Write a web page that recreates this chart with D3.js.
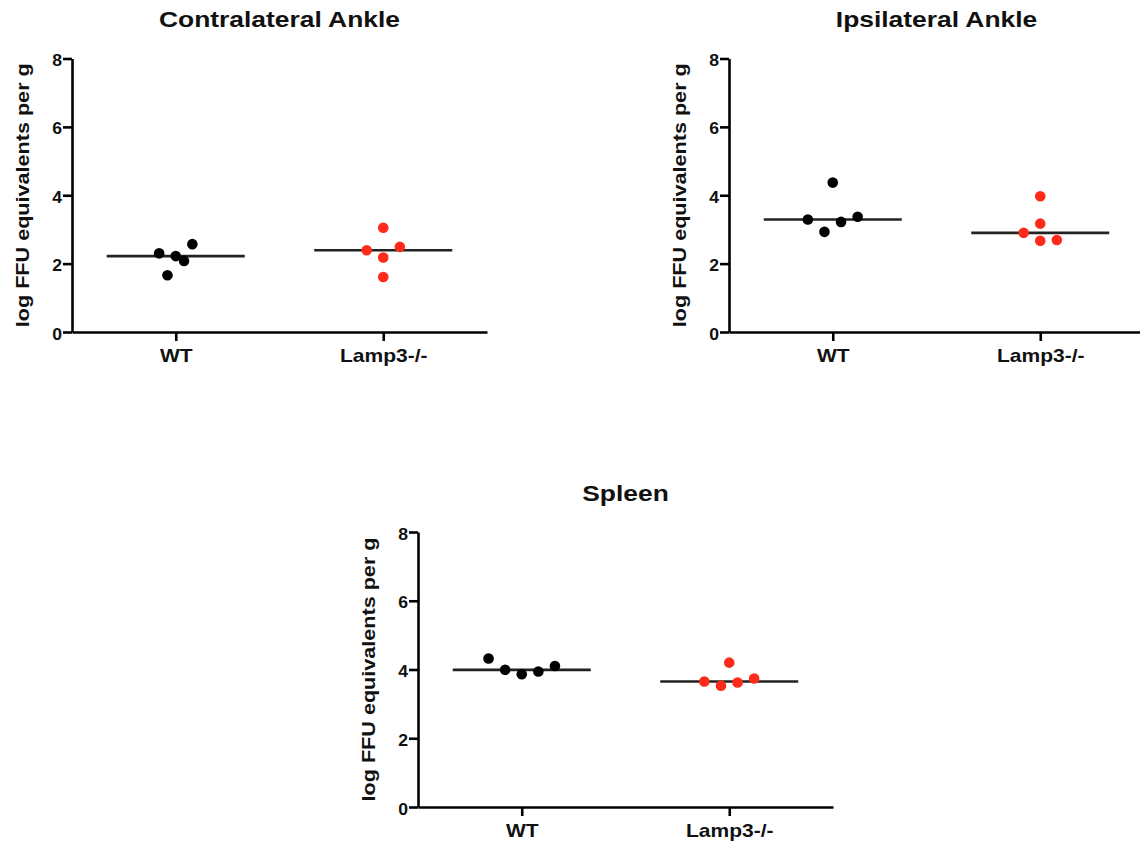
<!DOCTYPE html>
<html>
<head>
<meta charset="utf-8">
<script src="https://cdn.jsdelivr.net/npm/d3@7"></script>
<style>
  html, body { margin: 0; padding: 0; background: #fff; }
  svg { display: block; }
  text { font-family: "Liberation Sans", Arial, Helvetica, sans-serif; font-weight: bold; fill: #111; }
</style>
</head>
<body>
<svg id="chart" width="1140" height="846"></svg>
<script>
// ---------------- DATA ----------------
const categories = ["WT", "Lamp3-/-"];
const yTicks = [0, 2, 4, 6, 8];
const yLabel = "log FFU equivalents per g";
const panelTitles = ["Contralateral Ankle", "Ipsilateral Ankle", "Spleen"];

// values (log FFU equivalents per g)
const contraWT   = [2.30, 2.22, 2.08, 2.57, 1.66];
const contraLamp = [2.39, 3.05, 2.49, 2.18, 1.61];
const ipsiWT     = [3.29, 4.37, 2.93, 3.22, 3.37];
const ipsiLamp   = [2.90, 3.97, 3.17, 2.67, 2.69];
const spleenWT   = [4.32, 3.99, 3.86, 3.94, 4.10];
const spleenLamp = [3.65, 3.53, 3.62, 3.74, 4.20];

// scatter column index of each point (jitter slot, as in the figure)
const contraWTCol   = [-2, 0, 1, 2, -1];
const contraLampCol = [-2, 0, 2, 0, 0];
const ipsiWTCol     = [-3, 0, -1, 1, 3];
const ipsiLampCol   = [-2, 0, 0, 0, 2];
const spleenWTCol   = [-4, -2, 0, 2, 4];
const spleenLampCol = [-3, -1, 1, 3, 0];

// ---------------- LAYOUT ----------------
const svg = d3.select("#chart");
const colors = ["#000000", "#ff2a1a"];
const K = 1.2; // horizontal glyph stretch along text direction
const plotW = 415;
const colStep = 8.3;
const dotR = 5.3;
const halfLine = 69;

const panels = [
  { title: panelTitles[0], x0: 72,  yTop: 58.5,  yBot: 332, sets: [[contraWT, contraWTCol], [contraLamp, contraLampCol]], titleY: 27 },
  { title: panelTitles[1], x0: 729, yTop: 58.5,  yBot: 332, sets: [[ipsiWT, ipsiWTCol], [ipsiLamp, ipsiLampCol]], titleY: 27 },
  { title: panelTitles[2], x0: 418, yTop: 532,   yBot: 807, sets: [[spleenWT, spleenWTCol], [spleenLamp, spleenLampCol]], titleY: 501 }
];

panels.forEach(p => {
  const g = svg.append("g").attr("transform", `translate(${p.x0},0)`);
  const x = d3.scalePoint().domain(categories).range([0, plotW]).padding(0.5);
  const y = d3.scaleLinear().domain([0, 8]).range([p.yBot, p.yTop]);

  // median lines
  p.sets.forEach(([vals], i) => {
    const m = d3.median(vals);
    const cx = x(categories[i]);
    g.append("line")
      .attr("x1", cx - halfLine).attr("x2", cx + halfLine)
      .attr("y1", y(m)).attr("y2", y(m))
      .attr("stroke", "#222").attr("stroke-width", 2.6);
  });

  // points
  p.sets.forEach(([vals, cols], i) => {
    const cx = x(categories[i]);
    g.selectAll(null).data(vals.map((v, j) => ({ v, c: cols[j] })))
      .enter().append("circle")
      .attr("cx", d => cx + d.c * colStep)
      .attr("cy", d => y(d.v))
      .attr("r", dotR)
      .attr("fill", colors[i]);
  });

  // y axis
  const ya = g.append("g").call(d3.axisLeft(y).tickValues(yTicks).tickSize(9).tickSizeOuter(0).tickPadding(0));
  ya.select(".domain").attr("stroke", "#000").attr("stroke-width", 2.6);
  ya.selectAll(".tick line").attr("stroke", "#000").attr("stroke-width", 2.6);
  ya.selectAll(".tick text")
    .attr("x", null).attr("dy", null)
    .attr("transform", "translate(-10,7) scale(1.1,1)")
    .attr("text-anchor", "end")
    .style("font-size", "16px").attr("font-family", null).attr("font-size", null)
    .attr("fill", "#111");

  // x axis
  const xa = g.append("g").attr("transform", `translate(0,${p.yBot})`)
    .call(d3.axisBottom(x).tickSize(9).tickSizeOuter(0).tickPadding(0));
  xa.select(".domain").attr("stroke", "#000").attr("stroke-width", 2.6);
  xa.selectAll(".tick line").attr("stroke", "#000").attr("stroke-width", 2.6);
  xa.selectAll(".tick text")
    .attr("y", null).attr("dy", null)
    .attr("transform", "translate(0,30) scale(" + K + ",1)")
    .attr("text-anchor", "middle")
    .style("font-size", "17.5px").attr("font-family", null).attr("font-size", null)
    .attr("fill", "#111");

  // title
  g.append("text")
    .attr("transform", `translate(${plotW / 2},${p.titleY}) scale(${K},1)`)
    .attr("text-anchor", "middle")
    .style("font-size", "22px")
    .text(p.title);

  // y label
  g.append("text")
    .attr("transform", `translate(-43,${(p.yTop + p.yBot) / 2}) rotate(-90) scale(${K},1)`)
    .attr("text-anchor", "middle")
    .style("font-size", "18px")
    .text(yLabel);
});
</script>
</body>
</html>
